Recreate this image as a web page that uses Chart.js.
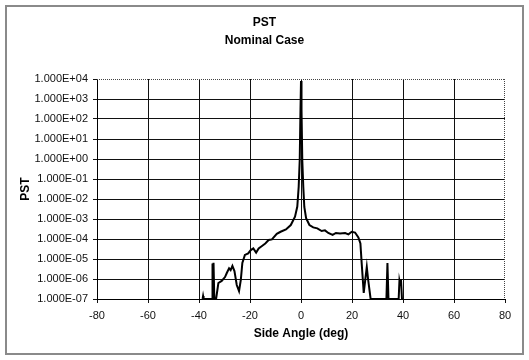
<!DOCTYPE html>
<html>
<head>
<meta charset="utf-8">
<script src="https://cdn.jsdelivr.net/npm/chart.js@4.4.1/dist/chart.umd.min.js"></script>
<style>
  html, body { margin: 0; padding: 0; background: #fff; }
  #wrap { position: relative; width: 529px; height: 360px; }
  #frame { position: absolute; left: 5px; top: 5px; width: 515px; height: 346px; border: 2px solid #8a8a8a; }
  canvas { position: absolute; left: 0; top: 0; }
</style>
</head>
<body>
<div id="wrap">
  <div id="frame"></div>
  <canvas id="chart" width="529" height="360"></canvas>
</div>
<script>
// side angle (deg) and PST
const angles = [
  -38.6, -38.4, -38.2, -34.9, -34.7, -34.5, -34.3, -34.0, -33.3, -32.4,
  -31.1, -29.8, -29.1, -28.2, -27.6, -26.9, -26.1, -25.2, -24.3, -23.6,
  -23.0, -22.0, -20.7, -19.7, -18.7, -17.6, -16.6, -15.3, -14.0, -12.7,
  -11.4, -9.5, -8.0, -5.9, -4.0, -2.35, -1.45, -0.9, -0.5, -0.2,
  0, 0.2, 0.5, 0.9, 1.3, 2.0, 3.3, 4.8, 6.4, 8.1,
  9.4, 10.7, 12.4, 13.7, 15.3, 17.3, 18.6, 19.9, 21.2, 22.5,
  23.3, 23.8, 24.6, 25.8, 26.3, 27.3, 33.5, 33.9, 34.3, 38.3,
  38.6, 38.9, 39.2, 39.6
];
const pst = [
  1e-7, 1.4e-7, 1e-7, 1e-7, 6e-6, 2e-7, 6.5e-6, 1e-7, 1e-7, 6.3e-7,
  8e-7, 1.25e-6, 2e-6, 3.4e-6, 2.8e-6, 4.5e-6, 2.5e-6, 5e-7, 2.5e-7, 9e-7,
  6.3e-6, 1.6e-5, 1.9e-5, 2.8e-5, 3.4e-5, 2.1e-5, 3.4e-5, 4.5e-5, 6e-5, 8.9e-5,
  9.5e-5, 1.8e-4, 2.3e-4, 3e-4, 5e-4, 1.3e-3, 4.2e-3, 4.2e-2, 0.9, 300,
  8000, 300, 0.9, 4e-2, 4e-3, 1.1e-3, 5e-4, 3.8e-4, 3.4e-4, 2.5e-4,
  2.7e-4, 2e-4, 1.6e-4, 2e-4, 1.9e-4, 2e-4, 1.7e-4, 2.3e-4, 2.1e-4, 1.2e-4,
  6e-5, 6e-6, 2e-7, 4e-6, 1e-6, 1e-7, 1e-7, 6.3e-6, 1e-7, 1e-7,
  8e-7, 5e-7, 1e-6, 1e-7
];
const pstTicks = [1e-7, 1e-6, 1e-5, 1e-4, 1e-3, 1e-2, 1e-1, 1e0, 1e1, 1e2, 1e3, 1e4];

function sci(v) {
  const e = Math.round(Math.log10(v));
  return "1.000E" + (e < 0 ? "-" : "+") + String(Math.abs(e)).padStart(2, "0");
}

Chart.defaults.font.family = "'Liberation Sans', Arial, sans-serif";
Chart.defaults.color = "#111";

// top and right edges of the plot are dotted
const dottedEdges = {
  id: "dottedEdges",
  afterDraw(chart) {
    const { ctx, chartArea: a } = chart;
    ctx.save();
    ctx.strokeStyle = "#444";
    ctx.lineWidth = 1;
    ctx.setLineDash([1, 1]);
    ctx.beginPath();
    ctx.moveTo(a.left, a.top + 0.5);
    ctx.lineTo(a.right, a.top + 0.5);
    ctx.moveTo(a.right - 0.5, a.top);
    ctx.lineTo(a.right - 0.5, a.bottom);
    ctx.stroke();
    ctx.restore();
  }
};

new Chart(document.getElementById("chart"), {
  type: "scatter",
  data: {
    datasets: [{
      data: angles.map((a, i) => ({ x: a, y: pst[i] })),
      showLine: true,
      borderColor: "#000",
      borderWidth: 2,
      pointRadius: 0,
      tension: 0
    }]
  },
  options: {
    responsive: false,
    animation: false,
    layout: { padding: { left: 24, right: 24, top: 0, bottom: 0 } },
    plugins: {
      legend: { display: false },
      tooltip: { enabled: false },
      title: {
        display: true,
        text: ["PST", "Nominal Case"],
        color: "#000",
        font: { size: 12, weight: "bold", lineHeight: 1.5 },
        padding: { top: 14, bottom: 29 }
      }
    },
    scales: {
      x: {
        type: "linear",
        min: -80, max: 80,
        afterFit: (s) => { s.height = 61; },
        ticks: { stepSize: 20, font: { size: 11 }, padding: 6, maxRotation: 0 },
        grid: {
          color: (c) => c.tick && c.tick.value === 80 ? "rgba(0,0,0,0)" : "#111",
          tickColor: "#111",
          tickLength: 4,
          lineWidth: 1
        },
        border: { color: "#000", width: 1 },
        title: {
          display: true,
          text: "Side Angle (deg)",
          color: "#000",
          font: { size: 12, weight: "bold" },
          padding: { top: 0, bottom: 19 }
        }
      },
      y: {
        type: "logarithmic",
        min: 1e-7, max: 1e4,
        afterFit: (s) => { s.width = 73; },
        afterBuildTicks: (s) => { s.ticks = pstTicks.map((v) => ({ value: v })); },
        ticks: { font: { size: 11 }, padding: 5, callback: (v) => sci(v) },
        grid: {
          color: (c) => c.tick && c.tick.value === 1e4 ? "rgba(0,0,0,0)" : "#111",
          tickColor: "#111",
          tickLength: 4,
          lineWidth: 1
        },
        border: { color: "#000", width: 1 },
        title: {
          display: true,
          text: "PST",
          color: "#000",
          font: { size: 12, weight: "bold" },
          padding: { top: -6, bottom: 0 }
        }
      }
    }
  },
  plugins: [dottedEdges]
});
</script>
</body>
</html>
